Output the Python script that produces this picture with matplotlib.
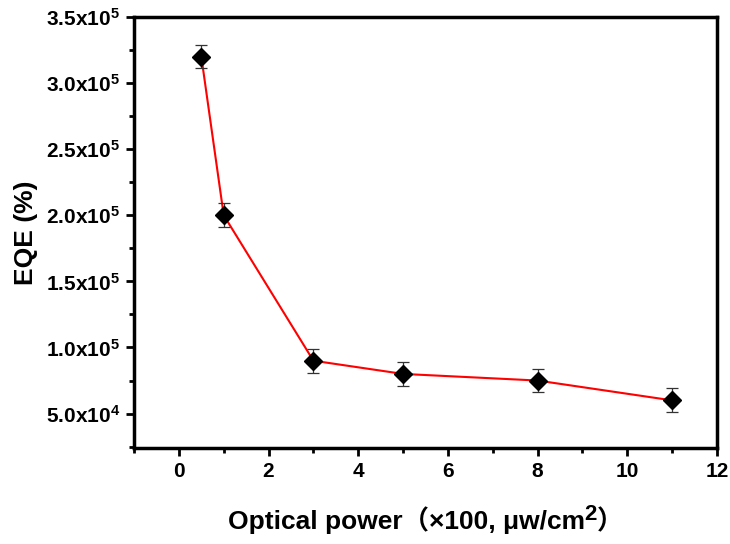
import matplotlib
matplotlib.use("Agg")
import matplotlib.pyplot as plt
from matplotlib.ticker import MultipleLocator, FuncFormatter

plt.rcParams['font.family'] = ['Liberation Sans', 'Noto Sans CJK SC']
plt.rcParams['font.weight'] = 'bold'
plt.rcParams['mathtext.fontset'] = 'custom'
plt.rcParams['mathtext.rm'] = 'Liberation Sans:bold'
plt.rcParams['mathtext.it'] = 'Liberation Sans:bold'
plt.rcParams['mathtext.bf'] = 'Liberation Sans:bold'

# data
power = [0.5, 1, 3, 5, 8, 11]
eqe = [3.2e5, 2.0e5, 0.9e5, 0.8e5, 0.75e5, 0.6e5]
eqe_err = [9e3, 9e3, 9e3, 9e3, 9e3, 9e3]

fig = plt.figure(figsize=(7.3, 5.44), dpi=100)
ax = fig.add_axes([0.1836, 0.1765, 0.7986, 0.7925])

ax.plot(power, eqe, color='red', lw=1.5, zorder=2)
ax.errorbar(power, eqe, yerr=eqe_err, fmt='none', ecolor='#333333',
            elinewidth=0.9, capsize=4, capthick=0.9, zorder=3)
ax.plot(power, eqe, 'D', color='black', ms=9.5, zorder=4)

ax.set_xlim(-1, 12)
ax.set_ylim(2.4e4, 3.5e5)
ax.xaxis.set_major_locator(MultipleLocator(2))
ax.xaxis.set_minor_locator(MultipleLocator(1))
ax.yaxis.set_major_locator(MultipleLocator(5e4))
ax.yaxis.set_minor_locator(MultipleLocator(2.5e4))


def sci(v, pos):
    if v <= 0:
        return ''
    exp = 0
    m = v
    while m >= 10:
        m /= 10
        exp += 1
    return r'$\mathregular{%.1fx10^{%d}}$' % (m, exp)


ax.yaxis.set_major_formatter(FuncFormatter(sci))

for s in ax.spines.values():
    s.set_linewidth(2.5)
ax.tick_params(which='major', direction='out', length=6, width=2,
               labelsize=15, pad=4)
ax.tick_params(which='minor', direction='out', length=3.5, width=2)
ax.tick_params(top=False, right=False, which='both')
for lab in ax.get_xticklabels() + ax.get_yticklabels():
    lab.set_fontweight('bold')

ax.set_ylabel('EQE (%)', fontsize=19, fontweight='bold', labelpad=6)

# x label in pieces so the superscript 2 sits like the original
fs = 19
t1 = fig.text(0, 0.04, 'Optical power（×100, μw/cm', fontsize=fs,
              fontweight='bold', ha='left', va='baseline')
t2 = fig.text(0, 0.04, '2', fontsize=fs * 0.85, fontweight='bold',
              ha='left', va='baseline')
t3 = fig.text(0, 0.04, '）', fontsize=fs, fontweight='bold',
              ha='left', va='baseline')
fig.canvas.draw()
r = fig.canvas.get_renderer()
w1 = t1.get_window_extent(r).width
w2 = t2.get_window_extent(r).width
w3 = t3.get_window_extent(r).width
W = fig.bbox.width
total = w1 + w2 + w3
center = (0.1836 + 0.7986 / 2) * W
x0 = center - total / 2
base = 0.027
t1.set_position((x0 / W, base))
t2.set_position(((x0 + w1) / W, base + 9 / fig.bbox.height))
t3.set_position(((x0 + w1 + w2) / W, base))

fig.savefig('out.png', dpi=100)
